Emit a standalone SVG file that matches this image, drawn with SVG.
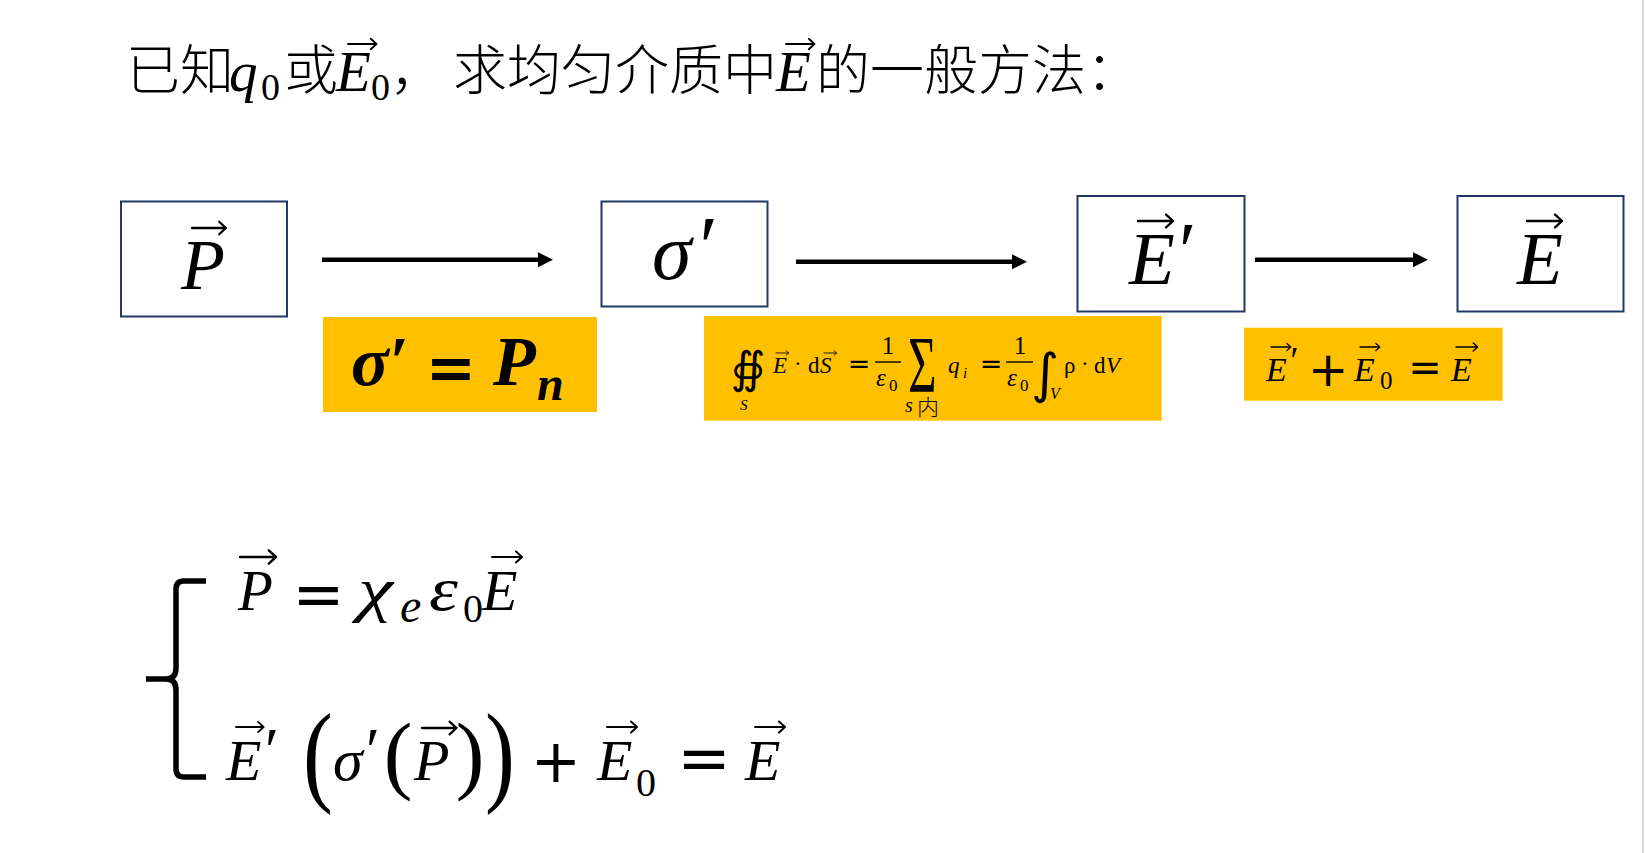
<svg xmlns="http://www.w3.org/2000/svg" xmlns:xlink="http://www.w3.org/1999/xlink" width="1645" height="853" viewBox="0 0 1645 853">
<style>
.cjk{font-family:"Noto Sans CJK SC","Noto Sans CJK JP",sans-serif;font-weight:300;fill:#000;}
.m{font-family:"Liberation Serif","DejaVu Serif",serif;font-style:italic;fill:#000;}
.r{font-family:"Liberation Serif","DejaVu Serif",serif;fill:#000;}
.op{font-family:"DejaVu Sans",sans-serif;fill:#000;text-anchor:middle;}
.b{font-weight:bold;}
.box{fill:#fff;stroke:#1F3864;stroke-width:2;}
.hl{fill:#FFC000;}
.conn{stroke:#000;stroke-width:4.5;fill:none;}
.bar{stroke:#000;stroke-width:1.4;}
</style>
<defs>
<marker id="ah" markerUnits="userSpaceOnUse" viewBox="0 0 16 16" markerWidth="16" markerHeight="16" refX="2" refY="8" orient="auto">
<path d="M0,0.5 L15,8 L0,15.5 Z" fill="#000"/>
</marker>
<path id="va" d="M0,0H30M24,-5.5L30,0L24,5.5" fill="none" stroke="#000" stroke-width="2" stroke-linecap="round" stroke-linejoin="round"/>
</defs>
<rect x="0" y="0" width="1645" height="853" fill="#fff"/>
<line x1="1643" y1="0" x2="1643" y2="853" stroke="#d9d9d9" stroke-width="2"/>

<g id="title">
<text class="cjk" x="126" y="90" font-size="54">已知</text>
<text class="m" x="229" y="91" font-size="57">q</text>
<text class="r" x="261" y="100" font-size="38">0</text>
<text class="cjk" x="284" y="90" font-size="54">或</text>
<text class="m" x="336" y="91" font-size="57">E</text>
<use xlink:href="#va" transform="translate(348,44) scale(0.95)"/>
<text class="r" x="371" y="100" font-size="38">0</text>
<text class="cjk" x="390" y="90" font-size="54">，</text>
<text class="cjk" x="453" y="90" font-size="54">求均匀介质中</text>
<text class="m" x="776" y="91" font-size="57">E</text>
<use xlink:href="#va" transform="translate(786,44) scale(0.95)"/>
<text class="cjk" x="816" y="90" font-size="54">的一般方法：</text>
</g>

<g id="connectors">
<line class="conn" x1="322" y1="259.7" x2="540" y2="259.7" marker-end="url(#ah)"/>
<line class="conn" x1="796" y1="261.7" x2="1014" y2="261.7" marker-end="url(#ah)"/>
<line class="conn" x1="1255" y1="259.7" x2="1415" y2="259.7" marker-end="url(#ah)"/>
</g>

<g id="node-P">
<rect class="box" x="121" y="201.5" width="166" height="115"/>
<text class="m" x="181" y="289" font-size="72">P</text>
<use xlink:href="#va" transform="translate(192,228) scale(1.13)"/>
</g>

<g id="node-sigma">
<rect class="box" x="601.5" y="201.5" width="166" height="105"/>
<text class="m" x="652" y="279" font-size="80">σ</text>
<text class="m" x="694" y="276" font-size="86">′</text>
</g>

<g id="node-Eprime">
<rect class="box" x="1077.5" y="196" width="167" height="115.5"/>
<text class="m" x="1129" y="283.5" font-size="75">E</text>
<text class="m" x="1174" y="278" font-size="80">′</text>
<use xlink:href="#va" transform="translate(1138,221) scale(1.17)"/>
</g>

<g id="node-E">
<rect class="box" x="1457.5" y="196" width="166" height="115.5"/>
<text class="m" x="1517" y="284" font-size="75">E</text>
<use xlink:href="#va" transform="translate(1527,221) scale(1.17)"/>
</g>

<g id="label-1">
<rect class="hl" x="323" y="317" width="274" height="95"/>
<text class="m b" x="351" y="385" font-size="70">σ′</text>
<text class="op b" x="451" y="389" font-size="60">=</text>
<text class="m b" x="493" y="385" font-size="70">P</text>
<text class="m b" x="537" y="400" font-size="48">n</text>
</g>

<g id="label-2">
<rect class="hl" x="704" y="316" width="457.7" height="104.7"/>
<text class="op" x="748" y="383" font-size="44">∯</text>
<text class="m" x="740" y="410" font-size="15">S</text>
<text class="m" x="773" y="373" font-size="23">E</text>
<use xlink:href="#va" transform="translate(776,353) scale(0.42)"/>
<text class="r" x="794" y="371" font-size="23">·</text>
<text class="r" x="808" y="373" font-size="23">d</text>
<text class="m" x="820" y="373" font-size="23">S</text>
<use xlink:href="#va" transform="translate(824,353) scale(0.42)"/>
<text class="op" x="859" y="373" font-size="27">=</text>
<text class="r" x="888" y="354" font-size="25" text-anchor="middle">1</text>
<line class="bar" x1="875" y1="362" x2="901" y2="362"/>
<text class="m" x="876" y="386" font-size="25">ε</text>
<text class="r" x="889" y="391" font-size="17">0</text>
<text class="r" x="908" y="0" font-size="49" transform="translate(0,392) scale(1,1.62)">Σ</text>
<text class="m" x="905" y="412" font-size="20">s</text>
<text class="cjk" x="917" y="415" font-size="22">内</text>
<text class="m" x="948" y="373" font-size="23">q</text>
<text class="m" x="963" y="378" font-size="15">i</text>
<text class="op" x="991" y="373" font-size="27">=</text>
<text class="r" x="1020" y="354" font-size="25" text-anchor="middle">1</text>
<line class="bar" x1="1006" y1="362" x2="1033" y2="362"/>
<text class="m" x="1007" y="386" font-size="25">ε</text>
<text class="r" x="1020" y="391" font-size="17">0</text>
<text class="op" x="1045" y="392" font-size="54">∫</text>
<text class="m" x="1050" y="399" font-size="16">V</text>
<text class="r" x="1064" y="373" font-size="23">ρ</text>
<text class="r" x="1081" y="371" font-size="23">·</text>
<text class="r" x="1094" y="373" font-size="23">d</text>
<text class="m" x="1106" y="373" font-size="23">V</text>
</g>

<g id="label-3">
<rect class="hl" x="1244" y="327.7" width="258.7" height="73"/>
<text class="m" x="1266" y="380.7" font-size="34">E</text>
<text class="m" x="1288" y="373" font-size="38">′</text>
<use xlink:href="#va" transform="translate(1271,347) scale(0.66)"/>
<text class="op" x="1328" y="386" font-size="48">+</text>
<text class="m" x="1354" y="380.7" font-size="34">E</text>
<use xlink:href="#va" transform="translate(1360,347) scale(0.66)"/>
<text class="r" x="1380" y="389" font-size="25">0</text>
<text class="op" x="1425" y="381" font-size="40">=</text>
<text class="m" x="1451" y="380.7" font-size="34">E</text>
<use xlink:href="#va" transform="translate(1456,347) scale(0.72)"/>
</g>

<g id="system">
<path d="M206,581 H184 Q176,581 176,589 V668 Q176,679 166,679 H146 M166,679 Q176,679 176,690 V769 Q176,777 184,777 H206" fill="none" stroke="#000" stroke-width="5.5"/>
<text class="m" x="238" y="610" font-size="57">P</text>
<use xlink:href="#va" transform="translate(240,557) scale(1.2)"/>
<text class="op" x="318.5" y="616" font-size="62">=</text>
<text class="m" x="0" y="0" font-size="61" transform="translate(358,610) scale(1.3,1)">χ</text>
<text class="m" x="400" y="622" font-size="48">e</text>
<text class="m" x="0" y="0" font-size="61" transform="translate(429,610) scale(1.2,1)">ε</text>
<text class="r" x="463" y="622" font-size="40">0</text>
<text class="m" x="482" y="610" font-size="58">E</text>
<use xlink:href="#va" transform="translate(492,557) scale(1.0)"/>

<text class="m" x="226" y="780" font-size="58">E</text>
<text class="m" x="261" y="772" font-size="64">′</text>
<use xlink:href="#va" transform="translate(236,727) scale(0.92)"/>
<text class="r" x="0" y="0" font-size="112" text-anchor="middle" transform="translate(318,791) scale(0.8,1)">(</text>
<text class="m" x="333" y="780" font-size="60">σ</text>
<text class="m" x="362" y="772" font-size="64">′</text>
<text class="r" x="398" y="783" font-size="86" text-anchor="middle">(</text>
<text class="m" x="414" y="780" font-size="58">P</text>
<use xlink:href="#va" transform="translate(422,728) scale(1.15)"/>
<text class="r" x="470" y="783" font-size="86" text-anchor="middle">)</text>
<text class="r" x="0" y="0" font-size="112" text-anchor="middle" transform="translate(500,791) scale(0.8,1)">)</text>
<text class="op" x="556" y="782" font-size="60">+</text>
<text class="m" x="597" y="780" font-size="58">E</text>
<use xlink:href="#va" transform="translate(607,727) scale(1.0)"/>
<text class="r" x="636" y="796" font-size="40">0</text>
<text class="op" x="704" y="780" font-size="64">=</text>
<text class="m" x="745" y="780" font-size="58">E</text>
<use xlink:href="#va" transform="translate(755,727) scale(1.0)"/>
</g>
</svg>
